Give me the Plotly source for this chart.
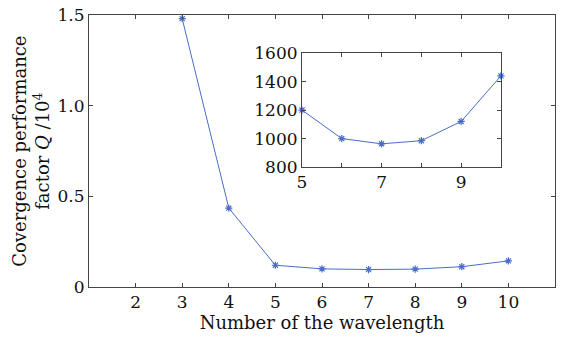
import plotly.graph_objects as go

# Main data (Q / 10^4)
wavelengths = [3, 4, 5, 6, 7, 8, 9, 10]
q_main = [1.48, 0.435, 0.120, 0.100, 0.0963, 0.0985, 0.112, 0.144]

# Inset data (Q)
inset_x = [5, 6, 7, 8, 9, 10]
inset_q = [1200, 1000, 963, 985, 1120, 1440]

main_xticks = [2, 3, 4, 5, 6, 7, 8, 9, 10]
main_yticks = [0, 0.5, 1.0, 1.5]
main_yticktext = ["0", "0.5", "1.0", "1.5"]
inset_xticks = [5, 7, 9]
inset_xminor = [6, 8, 10]
inset_yticks = [800, 1000, 1200, 1400, 1600]

color = "#4a6cc8"
tfont = dict(family="DejaVu Serif", size=17, color="#111")
font = dict(family="DejaVu Serif", size=18, color="#111")
axcol = "#444"

fig = go.Figure()
fig.add_trace(go.Scatter(x=wavelengths, y=q_main, mode="lines+markers",
                         line=dict(color=color, width=1),
                         marker=dict(symbol="asterisk-open", size=6, color=color,
                                     line=dict(color=color, width=1.2)),
                         xaxis="x", yaxis="y", showlegend=False))
fig.add_trace(go.Scatter(x=inset_x, y=inset_q, mode="lines+markers",
                         line=dict(color=color, width=1),
                         marker=dict(symbol="asterisk-open", size=6, color=color,
                                     line=dict(color=color, width=1.2)),
                         xaxis="x2", yaxis="y2", showlegend=False, cliponaxis=False))

common = dict(showline=True, linecolor=axcol, linewidth=1, mirror="ticks",
              ticks="inside", ticklen=4, tickcolor=axcol, showgrid=False,
              zeroline=False, tickfont=tfont, automargin=False)

fig.update_layout(
    width=568, height=338,
    margin=dict(l=89, r=13, t=15, b=51),
    paper_bgcolor="white", plot_bgcolor="white",
    font=font,
    xaxis=dict(range=[1, 11], tickvals=main_xticks,
               title=dict(text="Number of the wavelength", font=font, standoff=0),
               **common),
    yaxis=dict(range=[0, 1.5], tickvals=main_yticks, ticktext=main_yticktext, **common),
    xaxis2=dict(domain=[0.457, 0.884], range=[5, 10], anchor="y2",
                tickvals=inset_xticks,
                minor=dict(tickvals=inset_xminor, ticks="inside", ticklen=4, tickcolor=axcol),
                **common),
    yaxis2=dict(domain=[0.441, 0.860], range=[800, 1600], anchor="x2",
                tickvals=inset_yticks, **common),
)

fig.add_annotation(xref="paper", yref="paper", x=-0.125, y=0.5,
                   xanchor="center", yanchor="middle", textangle=-90, showarrow=False,
                   text="Covergence performance<br>factor <i>Q</i> /10<sup>4</sup>",
                   font=font)

fig.write_html("out.html", config={"displayModeBar": False},
               post_script="document.body.style.margin='0';")
